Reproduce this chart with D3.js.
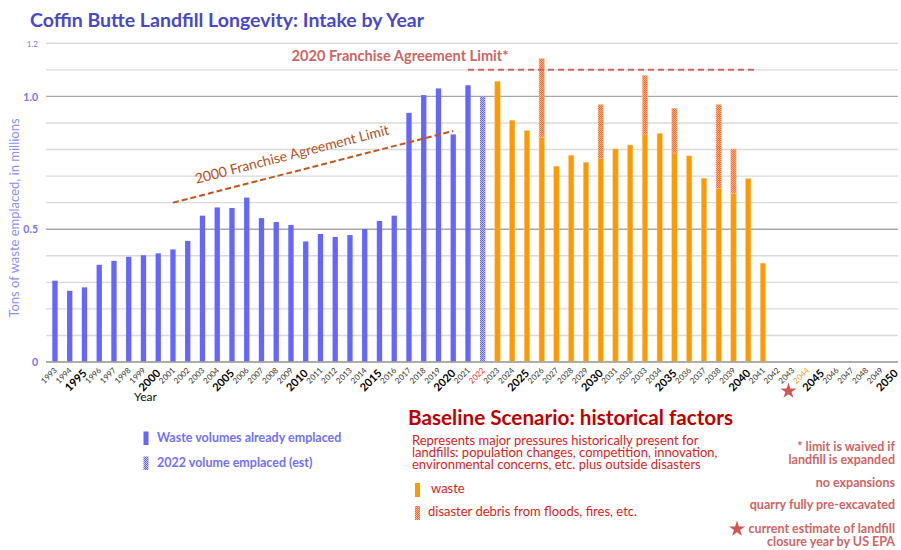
<!DOCTYPE html>
<html>
<head>
<meta charset="utf-8">
<script src="https://cdn.jsdelivr.net/npm/d3@7"></script>
<style>
  html, body { margin: 0; padding: 0; background: #fff; }
  svg { display: block; font-family: Lato, "Open Sans", sans-serif; }
</style>
</head>
<body>
<svg id="chart" width="901" height="550"></svg>
<script>
// ---- Data (millions of tons per year) ----
const years = [1993,1994,1995,1996,1997,1998,1999,2000,2001,2002,2003,2004,2005,2006,2007,2008,2009,2010,
  2011,2012,2013,2014,2015,2016,2017,2018,2019,2020,2021,2022,2023,2024,2025,2026,2027,2028,2029,2030,
  2031,2032,2033,2034,2035,2036,2037,2038,2039,2040,2041,2042,2043,2044,2045,2046,2047,2048,2049,2050];

const emplacedYears = [1993,1994,1995,1996,1997,1998,1999,2000,2001,2002,2003,2004,2005,2006,2007,2008,2009,2010,
  2011,2012,2013,2014,2015,2016,2017,2018,2019,2020,2021];
const emplaced = [0.306,0.268,0.281,0.366,0.381,0.396,0.402,0.409,0.424,0.456,0.551,0.582,0.580,0.619,0.542,0.527,0.516,0.454,
  0.482,0.471,0.478,0.501,0.531,0.551,0.938,1.005,1.030,0.857,1.042];

const estimateYears = [2022];
const estimate = [1.0];

const projectedYears = [2023,2024,2025,2026,2027,2028,2029,2030,2031,2032,2033,2034,2035,2036,2037,2038,2039,2040,2041];
const projectedWaste = [1.057,0.910,0.871,0.846,0.737,0.778,0.752,0.767,0.802,0.817,0.856,0.861,0.787,0.776,0.692,0.654,0.635,0.690,0.372];

const debrisYears = [2026,2030,2033,2035,2038,2039];
const debris = [0.296,0.202,0.223,0.168,0.315,0.167];

const limit2000Years = [2001,2020];
const limit2000 = [0.60,0.87];
const limit2020Years = [2021,2040];
const limit2020 = [1.1,1.1];

const epaClosureYear = 2043;
const highlightYears = {2022: "#ff1a1a", 2044: "#f29b1d"};

const yTicks = [0, 0.5, 1.0, 1.2];
const yTickLabels = ["0", "0.5", "1.0", "1.2"];
const gridValues = [0,0.1,0.2,0.3,0.4,0.5,0.6,0.7,0.8,0.9,1.0,1.1,1.2];

// ---- Layout ----
const svg = d3.select("#chart");
const plotLeft = 46, plotRight = 898, plotTop = 43.3, plotBottom = 362;

const x = d3.scaleBand()
  .domain(years)
  .range([47.6, 903.1])
  .paddingInner(0.64)
  .paddingOuter(0.32);
const y = d3.scaleLinear().domain([0, 1.2]).range([plotBottom, plotTop]);
const cx = yr => x(yr) + x.bandwidth() / 2;

// ---- Patterns ----
const defs = svg.append("defs");
function checker(id, c1, c2) {
  const p = defs.append("pattern").attr("id", id).attr("patternUnits", "userSpaceOnUse")
    .attr("width", 2).attr("height", 2);
  p.append("rect").attr("width", 2).attr("height", 2).attr("fill", c2);
  p.append("rect").attr("width", 1).attr("height", 1).attr("fill", c1);
  p.append("rect").attr("x", 1).attr("y", 1).attr("width", 1).attr("height", 1).attr("fill", c1);
}
checker("hatchBlue", "#6464ff", "#c4c4ff");
checker("hatchOrange", "#ff6a2a", "#ffb080");

// ---- Title ----
svg.append("text").attr("x", 30).attr("y", 27)
  .attr("font-size", 19.5).attr("font-weight", 700).attr("fill", "#4848c8")
  .text("Coffin Butte Landfill Longevity: Intake by Year");

// ---- Gridlines ----
svg.append("g").selectAll("line").data(gridValues).join("line")
  .attr("x1", plotLeft).attr("x2", plotRight)
  .attr("y1", d => y(d)).attr("y2", d => y(d))
  .attr("stroke", d => (Math.abs(d * 10 % 5) < 1e-6 && d !== 1.2) ? "#a8a8a8" : "#dadada")
  .attr("stroke-width", 1.4);

// ---- Y axis (labels only) ----
const yAxis = d3.axisLeft(y).tickValues(yTicks).tickSize(0).tickPadding(0)
  .tickFormat((d, i) => yTickLabels[i]);
const gy = svg.append("g").attr("transform", `translate(${plotLeft - 8},0)`).call(yAxis);
gy.select(".domain").remove();
gy.selectAll("text")
  .attr("font-family", "Lato, sans-serif")
  .attr("fill", "#7474ff")
  .attr("font-size", d => d === 1.2 ? 8 : 10.5)
  .attr("font-weight", d => d === 1.2 ? 400 : 700)
  .attr("dy", "0.35em");

svg.append("text")
  .attr("transform", `translate(19,218) rotate(-90)`)
  .attr("text-anchor", "middle").attr("font-size", 13).attr("fill", "#8c8cff")
  .text("Tons of waste emplaced, in millions");

// ---- Bars ----
const bw = x.bandwidth();
svg.append("g").selectAll("rect").data(emplacedYears.map((yr, i) => ({yr, v: emplaced[i]}))).join("rect")
  .attr("x", d => x(d.yr)).attr("width", bw)
  .attr("y", d => y(d.v)).attr("height", d => y(0) - y(d.v))
  .attr("fill", "#6666ff");

svg.append("g").selectAll("rect").data(estimateYears.map((yr, i) => ({yr, v: estimate[i]}))).join("rect")
  .attr("x", d => x(d.yr)).attr("width", bw)
  .attr("y", d => y(d.v)).attr("height", d => y(0) - y(d.v))
  .attr("fill", "url(#hatchBlue)");

svg.append("g").selectAll("rect").data(projectedYears.map((yr, i) => ({yr, v: projectedWaste[i]}))).join("rect")
  .attr("x", d => x(d.yr)).attr("width", bw)
  .attr("y", d => y(d.v)).attr("height", d => y(0) - y(d.v))
  .attr("fill", "#ff9900").attr("stroke", "#ffc47a").attr("stroke-width", 0.5);

const wasteByYear = new Map(projectedYears.map((yr, i) => [yr, projectedWaste[i]]));
svg.append("g").selectAll("rect").data(debrisYears.map((yr, i) => ({yr, base: wasteByYear.get(yr), v: debris[i]}))).join("rect")
  .attr("x", d => x(d.yr)).attr("width", bw)
  .attr("y", d => y(d.base + d.v)).attr("height", d => y(d.base) - y(d.base + d.v))
  .attr("fill", "url(#hatchOrange)").attr("stroke", "#ffb891").attr("stroke-width", 0.5);

// ---- Franchise agreement limits ----
const l2000 = limit2000Years.map((yr, i) => [cx(yr), y(limit2000[i])]);
svg.append("path").attr("d", d3.line()(l2000))
  .attr("stroke", "#c0561e").attr("stroke-width", 2).attr("stroke-dasharray", "6,3").attr("fill", "none");
const ang = Math.atan2(l2000[1][1] - l2000[0][1], l2000[1][0] - l2000[0][0]) * 180 / Math.PI;
const tx = cx(2003) - 6, ty = y(0.675) + 1;
svg.append("text")
  .attr("transform", `translate(${tx},${ty}) rotate(${ang})`)
  .attr("font-size", 14).attr("fill", "#b5501c")
  .text("2000 Franchise Agreement Limit");

const l2020 = [[cx(limit2020Years[0]), y(limit2020[0])], [cx(limit2020Years[1]) + x.step() * 0.55, y(limit2020[1])]];
svg.append("path").attr("d", d3.line()(l2020))
  .attr("stroke", "#d06464").attr("stroke-width", 2).attr("stroke-dasharray", "6,4").attr("fill", "none");
svg.append("text").attr("x", 400).attr("y", 61).attr("text-anchor", "middle")
  .attr("font-size", 14.6).attr("font-weight", 700).attr("fill", "#d06464")
  .text("2020 Franchise Agreement Limit*");

// ---- X axis ----
svg.append("line").attr("x1", plotLeft).attr("x2", plotRight)
  .attr("y1", y(0)).attr("y2", y(0)).attr("stroke", "#a8a8a8").attr("stroke-width", 1.4);

svg.append("g").selectAll("text").data(years).join("text")
  .attr("text-anchor", "end")
  .attr("font-size", d => d % 5 === 0 ? 11 : 8)
  .attr("font-weight", d => d % 5 === 0 ? 700 : 400)
  .attr("fill", d => highlightYears[d] || (d % 5 === 0 ? "#000" : "#333"))
  .attr("transform", d => {
    const major = d % 5 === 0;
    const px = cx(d) + (major ? 3 : 2.5);
    const py = plotBottom + (major ? 12 : 9);
    return "translate(" + px + "," + py + ") rotate(-45)";
  })
  .text(d => d);

svg.append("text").attr("x", 134).attr("y", 401).attr("font-size", 12).attr("fill", "#111").text("Year");

// EPA closure estimate star
const star = d3.symbol().type(d3.symbolStar).size(80);
svg.append("path").attr("d", star())
  .attr("transform", `translate(${cx(epaClosureYear) - 4},391)`)
  .attr("fill", "#d05656");

// ---- Legend: historical ----
svg.append("rect").attr("x", 143.5).attr("y", 431.5).attr("width", 5).attr("height", 13.5).attr("fill", "#6666ff");
svg.append("text").attr("x", 157).attr("y", 442).attr("font-size", 12.5).attr("font-weight", 700).attr("fill", "#7070ff")
  .text("Waste volumes already emplaced");
svg.append("rect").attr("x", 143.5).attr("y", 456.5).attr("width", 5).attr("height", 13.5).attr("fill", "url(#hatchBlue)");
svg.append("text").attr("x", 157).attr("y", 467).attr("font-size", 12.5).attr("font-weight", 700).attr("fill", "#7070ff")
  .text("2022 volume emplaced (est)");

// ---- Legend: baseline scenario ----
svg.append("text").attr("x", 408).attr("y", 425).attr("font-size", 20.7).attr("font-weight", 700).attr("fill", "#c00000")
  .text("Baseline Scenario: historical factors");
const desc = ["Represents major pressures historically present for",
              "landfills: population changes, competition, innovation,",
              "environmental concerns, etc. plus outside disasters"];
svg.append("g").selectAll("text").data(desc).join("text")
  .attr("x", 412).attr("y", (d, i) => 444.5 + i * 12)
  .attr("font-size", 13).attr("fill", "#e01a1a").text(d => d);

svg.append("rect").attr("x", 415).attr("y", 483).attr("width", 5).attr("height", 14).attr("fill", "#ff9900");
svg.append("text").attr("x", 431).attr("y", 493).attr("font-size", 13).attr("fill", "#e01a1a").text("waste");
svg.append("rect").attr("x", 415).attr("y", 506).attr("width", 5).attr("height", 14).attr("fill", "url(#hatchOrange)");
svg.append("text").attr("x", 428).attr("y", 516).attr("font-size", 13).attr("fill", "#e01a1a")
  .text("disaster debris from floods, fires, etc.");

// ---- Notes ----
const notes = [
  {t: "* limit is waived if", y: 451},
  {t: "landfill is expanded", y: 464},
  {t: "no expansions", y: 487},
  {t: "quarry fully pre-excavated", y: 509},
  {t: "current estimate of landfill", y: 533},
  {t: "closure year by US EPA", y: 546}
];
svg.append("g").selectAll("text").data(notes).join("text")
  .attr("x", 895).attr("y", d => d.y).attr("text-anchor", "end")
  .attr("font-size", 12.5).attr("font-weight", 700).attr("fill", "#d06464").text(d => d.t);
svg.append("path").attr("d", star())
  .attr("transform", `translate(737,529)`).attr("fill", "#d05656");
</script>
</body>
</html>
